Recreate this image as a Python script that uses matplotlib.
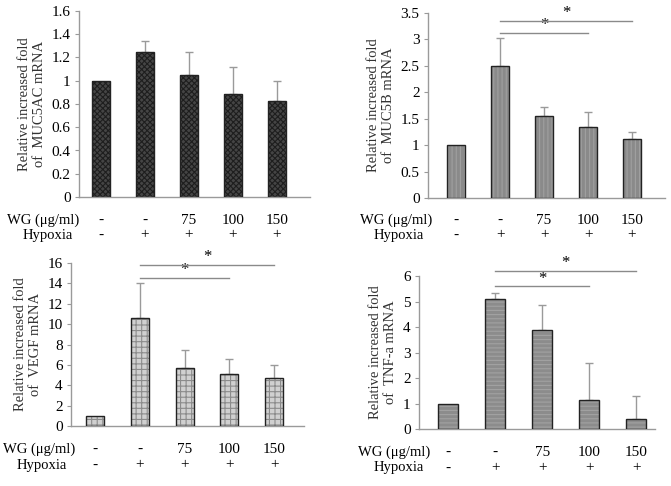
import matplotlib
matplotlib.use("Agg")
import matplotlib.pyplot as plt
import numpy as np

plt.rcParams['font.family'] = ['Liberation Serif', 'DejaVu Serif']
plt.rcParams['hatch.linewidth'] = 0.8

# ---- data ----
wg_labels = ['-', '-', '75', '100', '150']
hypoxia_labels = ['-', '+', '+', '+', '+']

muc5ac_mean = [1.0, 1.25, 1.05, 0.89, 0.83]
muc5ac_err = [0.0, 0.09, 0.20, 0.23, 0.17]

muc5b_mean = [1.0, 2.50, 1.55, 1.35, 1.12]
muc5b_err = [0.0, 0.52, 0.17, 0.28, 0.13]

vegf_mean = [1.0, 10.6, 5.7, 5.1, 4.7]
vegf_err = [0.0, 3.4, 1.8, 1.5, 1.3]

tnf_mean = [1.0, 5.1, 3.88, 1.12, 0.38]
tnf_err = [0.0, 0.25, 0.97, 1.48, 0.92]

W, H = 671, 486
fig = plt.figure(figsize=(W / 100, H / 100), dpi=100)


def axes_px(left, right, top, bottom):
    return fig.add_axes([left / W, 1 - bottom / H, (right - left) / W, (bottom - top) / H])


def panel(ax, means, errs, ylim, yticks, yticklabels, ylabel, xlim, width,
          face, hatch_col, hatch, sig=None, wg_y=220, hy_y=235, lbl_x=(7, 23)):
    x = np.arange(len(means))
    ax.bar(x, means, width=width, color=face, edgecolor=hatch_col, hatch=hatch,
           linewidth=0, zorder=2)
    ax.bar(x, means, width=width, fill=False, edgecolor='#222222', linewidth=1.0, zorder=3)
    errs_arr = np.array(errs)
    mask = errs_arr > 0
    ax.errorbar(x[mask], np.array(means)[mask],
                yerr=[np.zeros(mask.sum()), errs_arr[mask]],
                fmt='none', ecolor='#9a9a9a', elinewidth=1.0, capsize=3, capthick=1.0, zorder=1)
    ax.set_xlim(*xlim)
    ax.set_ylim(*ylim)
    ax.set_yticks(yticks)
    ax.set_yticklabels(yticklabels, fontsize=11)
    ax.set_xticks([])
    for s in ['top', 'right']:
        ax.spines[s].set_visible(False)
    for s in ['left', 'bottom']:
        ax.spines[s].set_color('#9a9a9a')
        ax.spines[s].set_linewidth(1.0)
    ax.tick_params(axis='y', length=3, color='#9a9a9a', pad=3)
    ax.set_ylabel(ylabel, fontsize=10.5, linespacing=1.2, color='#333333')
    # condition rows
    for xi, (w, h) in enumerate(zip(wg_labels, hypoxia_labels)):
        xd, _ = ax.transData.transform((xi, 0))
        fig.text(xd / W, 1 - wg_y / H, w, ha='center', va='center', fontsize=11)
        fig.text(xd / W, 1 - hy_y / H, h, ha='center', va='center', fontsize=11)
    fig.text(lbl_x[0] / W, 1 - wg_y / H, 'WG (\u03bcg/ml)', ha='left', va='center', fontsize=10.5)
    fig.text(lbl_x[1] / W, 1 - hy_y / H, 'Hypoxia', ha='left', va='center', fontsize=10.5)
    if sig:
        for (x0, x1, yv, ys) in sig:
            ax.plot([x0, x1], [yv, yv], color='#8a8a8a', lw=1.0, clip_on=False, zorder=4)
            ax.text((x0 + x1) / 2, ys, '*', ha='center', va='center', fontsize=12, clip_on=False)


# Panel 1: MUC5AC
ax1 = axes_px(79, 310, 11, 197)
panel(ax1, muc5ac_mean, muc5ac_err, (0, 1.6), np.arange(0, 1.61, 0.2),
      ['0', '0.2', '0.4', '0.6', '0.8', '1', '1.2', '1.4', '1.6'],
      'Relative increased fold\nof  MUC5AC mRNA', (-0.5, 4.75), 0.43,
      '#454545', '#1e1e1e', 'xxxxxx', wg_y=220, hy_y=235, lbl_x=(7, 23))

# Panel 2: MUC5B
ax2 = axes_px(428, 665, 13, 198)
panel(ax2, muc5b_mean, muc5b_err, (0, 3.5), np.arange(0, 3.51, 0.5),
      ['0', '0.5', '1', '1.5', '2', '2.5', '3', '3.5'],
      'Relative increased fold\nof  MUC5B mRNA', (-0.64, 4.75), 0.4,
      '#8a8a8a', '#a0a0a0', '||||', wg_y=220, hy_y=235, lbl_x=(360, 374),
      sig=[(1, 4, 3.35, 3.50), (1, 3, 3.12, 3.27)])

# Panel 3: VEGF
ax3 = axes_px(71, 304, 263, 426)
panel(ax3, vegf_mean, vegf_err, (0, 16), np.arange(0, 16.1, 2),
      ['0', '2', '4', '6', '8', '10', '12', '14', '16'],
      'Relative increased fold\nof  VEGF mRNA', (-0.54, 4.67), 0.4,
      '#d0d0d0', '#8c8c8c', '+++', wg_y=449, hy_y=465, lbl_x=(3, 17),
      sig=[(1, 4, 15.8, 16.6), (1, 3, 14.5, 15.3)])

# Panel 4: TNF-a
ax4 = axes_px(419, 655, 276, 429)
panel(ax4, tnf_mean, tnf_err, (0, 6), np.arange(0, 6.1, 1),
      ['0', '1', '2', '3', '4', '5', '6'],
      'Relative increased fold\nof  TNF-a mRNA', (-0.62, 4.4), 0.42,
      '#8c8c8c', '#a2a2a2', '----', wg_y=452, hy_y=468, lbl_x=(358, 374),
      sig=[(1, 4, 6.2, 6.5), (1, 3, 5.6, 5.9)])

fig.savefig('out.png', dpi=100)
